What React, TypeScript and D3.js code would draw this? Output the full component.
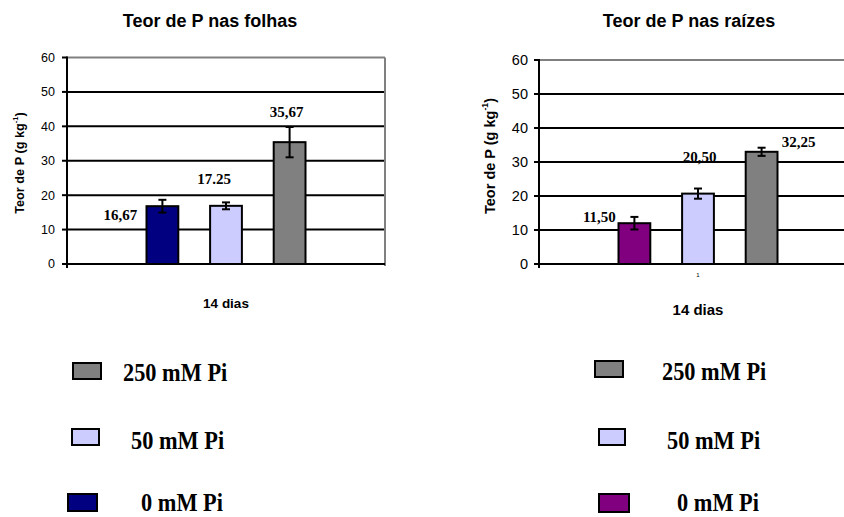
import * as d3 from 'd3';

// dados
const series = ['0 mM Pi', '50 mM Pi', '250 mM Pi'];
const yTicks = [0, 10, 20, 30, 40, 50, 60];

const folhasValues = [16.8, 16.9, 35.4];
const folhasErrors = [1.85, 1.0, 4.4];
const folhasLabels = ['16,67', '17.25', '35,67'];
const folhasColors = ['#000080', '#CCCCFF', '#808080'];

const raizesValues = [12.0, 20.7, 33.0];
const raizesErrors = [1.85, 1.5, 1.2];
const raizesLabels = ['11,50', '20,50', '32,25'];
const raizesColors = ['#800080', '#CCCCFF', '#808080'];

const sans = '"Liberation Sans", Arial, sans-serif';
const serif = '"Liberation Serif", "Times New Roman", serif';

function Chart({ title, titleDx, values, errors, labels, colors, xLeft, yTop, catLabel, axisFont, tickGap, yLabelFont, yLabelX, yLabelY, labelPos, xLabelSize, xLabelY }) {
    const xRight = xLeft + 318;
    const y = d3.scaleLinear().domain([0, 60]).range([264, yTop]);
    const x0 = d3.scaleBand().domain(['14 dias']).range([xLeft, xRight]).padding(0.25);
    const x1 = d3.scaleBand().domain(series).range([0, x0.bandwidth()]).paddingInner(0.5).paddingOuter(0.25);
    const gx = x0('14 dias');
    const mid = gx + x0.bandwidth() / 2;

    return (
        <g>
            <text x={mid + titleDx} y={27} textAnchor="middle" fontFamily={sans} fontWeight="bold" fontSize={18}>{title}</text>
            {/* grade */}
            {yTicks.filter(t => t > 0).map(t => (
                <line key={t} x1={xLeft} x2={xRight} y1={y(t)} y2={y(t)}
                      stroke={t === 60 ? '#808080' : '#000'} strokeWidth={2}/>
            ))}
            <line x1={xRight} x2={xRight} y1={y(60)} y2={y(0) + 2} stroke="#808080" strokeWidth={2}/>
            {/* eixos */}
            <line x1={xLeft} x2={xRight} y1={y(0)} y2={y(0)} stroke="#000" strokeWidth={2}/>
            <line x1={xLeft} x2={xLeft} y1={y(60) - 1} y2={y(0) + 4} stroke="#000" strokeWidth={2}/>
            {yTicks.map(t => (
                <g key={t}>
                    <line x1={xLeft - 5} x2={xLeft} y1={y(t)} y2={y(t)} stroke="#000" strokeWidth={2}/>
                    <text x={xLeft - tickGap} y={y(t)} dy="0.35em" textAnchor="end" fontFamily={sans} fontSize={axisFont}>{t}</text>
                </g>
            ))}
            <text transform={`translate(${yLabelX},${yLabelY}) rotate(-90)`} textAnchor="middle" dominantBaseline="central"
                  fontFamily={sans} fontWeight="bold" fontSize={yLabelFont}>
                Teor de P (g kg<tspan fontSize={yLabelFont * 0.6} dy={-5}>-1</tspan><tspan dy={5}>)</tspan>
            </text>
            {catLabel && <text x={mid} y={277} textAnchor="middle" fontFamily={sans} fontSize={6}>{catLabel}</text>}
            <text x={mid} y={xLabelY} textAnchor="middle" fontFamily={sans} fontWeight="bold" fontSize={xLabelSize}>14 dias</text>
            {/* barras */}
            {series.map((s, i) => {
                const bx = gx + x1(s);
                const cx = bx + x1.bandwidth() / 2;
                return (
                    <g key={s}>
                        <rect x={bx} y={y(values[i])} width={x1.bandwidth()} height={y(0) - y(values[i])}
                              fill={colors[i]} stroke="#000" strokeWidth={2}/>
                        <g stroke="#000" strokeWidth={2}>
                            <line x1={cx} x2={cx} y1={y(values[i] + errors[i])} y2={y(values[i] - errors[i])}/>
                            <line x1={cx - 4} x2={cx + 4} y1={y(values[i] + errors[i])} y2={y(values[i] + errors[i])}/>
                            <line x1={cx - 4} x2={cx + 4} y1={y(values[i] - errors[i])} y2={y(values[i] - errors[i])}/>
                        </g>
                        <text x={cx + labelPos[i][0]} y={y(labelPos[i][1])} textAnchor="middle"
                              fontFamily={serif} fontWeight="bold" fontSize={15}>{labels[i]}</text>
                    </g>
                );
            })}
        </g>
    );
}

function Legend({ colors, boxes, texts }) {
    // ordem de cima para baixo: 250, 50, 0
    const order = [2, 1, 0];
    return (
        <g>
            {order.map((si, k) => (
                <g key={si}>
                    <rect x={boxes[k][0]} y={boxes[k][1]} width={boxes[k][2]} height={boxes[k][3]}
                          fill={colors[si]} stroke="#000" strokeWidth={2}/>
                    <text transform={`translate(${texts[k][0]},${texts[k][1]}) scale(0.86,1)`}
                          fontFamily={serif} fontWeight="bold" fontSize={26}>{series[si]}</text>
                </g>
            ))}
        </g>
    );
}

export default function App() {
    return (
        <svg width={844} height={517} style={{ position: 'absolute', left: 0, top: 0, background: '#fff' }}>
            <Chart title="Teor de P nas folhas" titleDx={-16} values={folhasValues} errors={folhasErrors} labels={folhasLabels}
                   colors={folhasColors} xLeft={67} yTop={57.5} axisFont={12.5} tickGap={12} yLabelFont={12.7} yLabelX={20} yLabelY={163}
                   labelPos={[[-42, 12.75], [-12, 23.2], [-3, 42.6]]} xLabelSize={13.5} xLabelY={308}/>
            <Chart title="Teor de P nas raízes" titleDx={-9} values={raizesValues} errors={raizesErrors} labels={raizesLabels}
                   colors={raizesColors} xLeft={539} yTop={60} axisFont={14.5} tickGap={11} yLabelFont={14.5} yLabelX={490} yLabelY={156}
                   catLabel="1" labelPos={[[-35, 12.35], [1.5, 30.0], [37, 34.4]]} xLabelSize={15} xLabelY={315}/>
            <Legend colors={folhasColors}
                    boxes={[[73, 363, 28, 16], [72, 429, 27, 16], [68, 494, 29, 17]]}
                    texts={[[123, 381], [131, 449], [141, 511]]}/>
            <Legend colors={raizesColors}
                    boxes={[[595, 361, 28, 16], [599, 429, 26, 16], [599, 494, 30, 18]]}
                    texts={[[662, 380], [667, 449], [677, 511]]}/>
        </svg>
    );
}
